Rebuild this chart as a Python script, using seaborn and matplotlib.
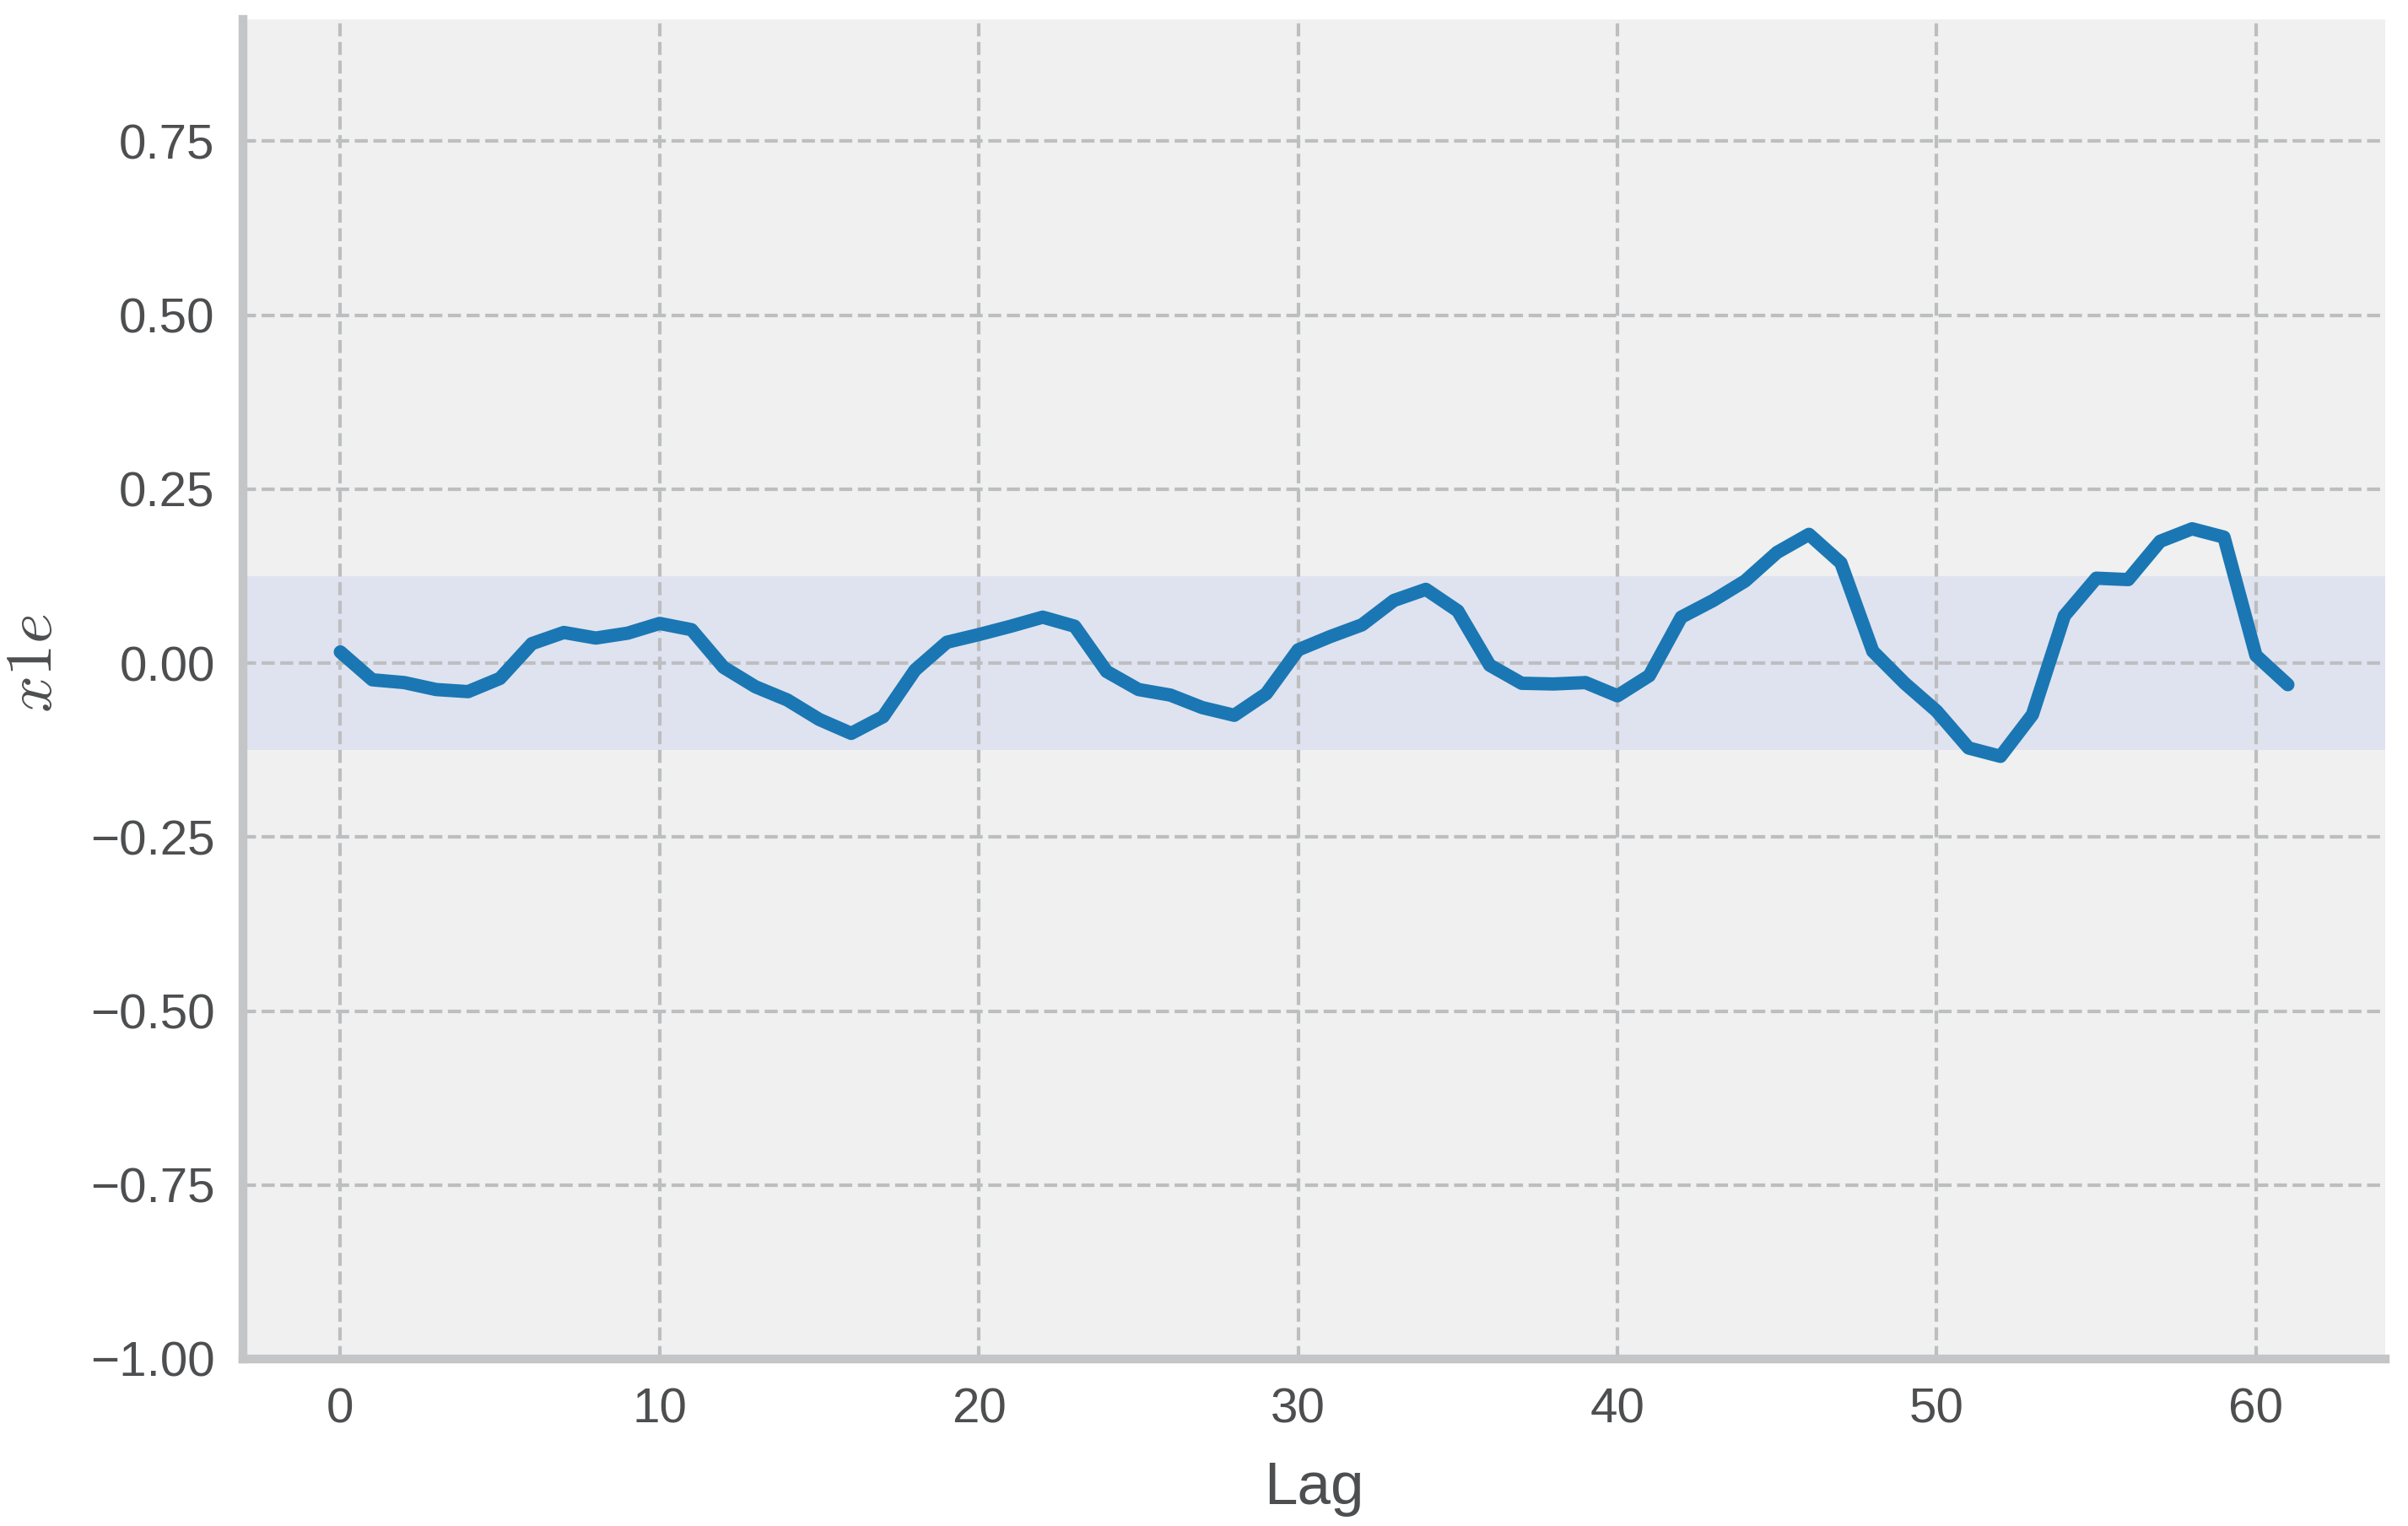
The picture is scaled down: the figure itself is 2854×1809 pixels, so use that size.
import numpy as np
import pandas as pd
import matplotlib
matplotlib.use("Agg")
import matplotlib.pyplot as plt
import seaborn as sns

# autocorrelation values, lag 0..61
lags = list(range(62))
acf = [0.016, -0.024, -0.028, -0.038, -0.041, -0.022, 0.028, 0.044, 0.036, 0.043,
       0.057, 0.048, -0.006, -0.034, -0.053, -0.081, -0.101, -0.077, -0.010, 0.030,
       0.041, 0.053, 0.066, 0.053, -0.012, -0.038, -0.046, -0.064, -0.075, -0.044,
       0.019, 0.038, 0.055, 0.090, 0.106, 0.075, -0.003, -0.029, -0.030, -0.028,
       -0.047, -0.018, 0.066, 0.090, 0.118, 0.159, 0.185, 0.144, 0.017, -0.029,
       -0.069, -0.122, -0.134, -0.074, 0.068, 0.122, 0.120, 0.175, 0.193, 0.181,
       0.011, -0.031]
conf_band = 0.125
ytick_vals = [-1.00, -0.75, -0.50, -0.25, 0.00, 0.25, 0.50, 0.75]

df = pd.DataFrame({"Lag": lags, "acf": acf})

sns.set_theme(style="whitegrid")
plt.rcParams["font.family"] = ["Liberation Sans", "DejaVu Sans"]
plt.rcParams["mathtext.fontset"] = "cm"

text_col = "#4d4e50"
fig = plt.figure(figsize=(2854 / 300, 1809 / 300), dpi=300)
ax = fig.add_axes([288 / 2854, 1 - 1611 / 1809, (2827 - 288) / 2854, (1611 - 23) / 1809])
ax.set_facecolor("#eff0ef")

ax.axhspan(-conf_band, conf_band, color="#dfe3ef", zorder=0.5, lw=0)
sns.lineplot(data=df, x="Lag", y="acf", ax=ax, color="#1a77b4", lw=3.8, zorder=3)

ax.set_xlim(-3.05, 64.05)
ax.set_ylim(-1.0, 0.925)
ax.set_yticks(ytick_vals)
ax.set_yticklabels([f"{v:.2f}".replace("-", "\u2212") for v in ytick_vals])
ax.set_xticks([0, 10, 20, 30, 40, 50, 60])

ax.grid(True, color="#bdbec0", ls="--", lw=1.0)
ax.set_axisbelow(True)
for s in ["top", "right"]:
    ax.spines[s].set_visible(False)
for s in ["left", "bottom"]:
    ax.spines[s].set_color("#c4c5c7")
    ax.spines[s].set_linewidth(2.5)

ax.tick_params(axis="both", labelsize=14, colors=text_col, length=0, pad=8)
ax.set_xlabel("Lag", fontsize=17, color=text_col, labelpad=8)
ax.set_ylabel("$x1e$", fontsize=18.5, color=text_col)
# label sits level with y=0 in the reference
ax.yaxis.set_label_coords(-0.083, 1.0 / 1.925)

fig.savefig("out.png", dpi=300)
